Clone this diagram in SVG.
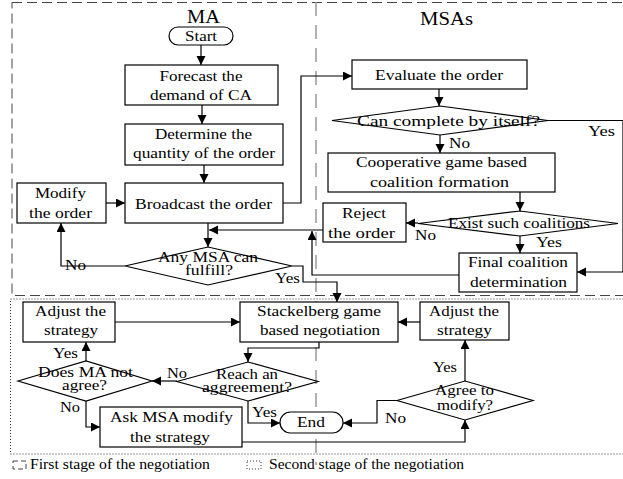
<svg xmlns="http://www.w3.org/2000/svg" width="623" height="479" viewBox="0 0 623 479">
<style>
text{font-family:'Liberation Serif','Times New Roman',Times,'DejaVu Serif',serif;font-size:15.5px;fill:#000}
.c{text-anchor:middle}
.h{font-size:18px}
.lg{font-size:14px}
.b{fill:#fff;stroke:#000;stroke-width:1.2}
.ln{fill:none;stroke:#000;stroke-width:1.2}
</style>
<defs>
<marker id="ar" markerUnits="userSpaceOnUse" markerWidth="10" markerHeight="10" refX="9" refY="4.5" orient="auto">
<path d="M0,0 L9,4.5 L0,9 z" fill="#000"/>
</marker>
</defs>
<rect width="623" height="479" fill="#fff"/>
<g font-family="Liberation Serif, Times New Roman, serif">
<g id="regions">
<rect x="12" y="2.5" width="625" height="293" fill="none" stroke="#444" stroke-width="1" stroke-dasharray="10,5"/>
<rect x="10.5" y="299" width="625" height="155" fill="none" stroke="#333" stroke-width="1" stroke-dasharray="1,2"/>
<line x1="316" y1="2" x2="316" y2="465" stroke="#999" stroke-width="1.5" stroke-dasharray="14,9"/>
<text class="c h" x="203.5" y="23" textLength="33" lengthAdjust="spacingAndGlyphs">MA</text>
<text class="c h" x="446.5" y="25" textLength="53" lengthAdjust="spacingAndGlyphs">MSAs</text>
</g>
<g id="connectors">
<path class="ln" d="M201,45 V65" marker-end="url(#ar)"/>
<path class="ln" d="M202,105 V124" marker-end="url(#ar)"/>
<path class="ln" d="M204,165 V183" marker-end="url(#ar)"/>
<path class="ln" d="M106,203 H125" marker-end="url(#ar)"/>
<path class="ln" d="M283,203 H301 V76 H352" marker-end="url(#ar)"/>
<path class="ln" d="M208,223 V247" marker-end="url(#ar)"/>
<path class="ln" d="M125,266 H61 V223" marker-end="url(#ar)"/>
<path class="ln" d="M292,266 H303 V282 H337 V302" marker-end="url(#ar)"/>
<path class="ln" d="M439,89 V106" marker-end="url(#ar)"/>
<path class="ln" d="M440,135 V153" marker-end="url(#ar)"/>
<path class="ln" d="M548,120.5 H623 V272 H577" marker-end="url(#ar)"/>
<path class="ln" d="M520,192 V211" marker-end="url(#ar)"/>
<path class="ln" d="M418,223 H406" marker-end="url(#ar)"/>
<path class="ln" d="M520,236 V253" marker-end="url(#ar)"/>
<path class="ln" d="M323,230 H209" marker-end="url(#ar)"/>
<path class="ln" d="M459,275 H312 V231" marker-end="url(#ar)"/>
<path class="ln" d="M115,322 H240" marker-end="url(#ar)"/>
<path class="ln" d="M420,322 H398" marker-end="url(#ar)"/>
<path class="ln" d="M319,342 V348 H248 V362" marker-end="url(#ar)"/>
<path class="ln" d="M177,381 H152" marker-end="url(#ar)"/>
<path class="ln" d="M86,361 V342" marker-end="url(#ar)"/>
<path class="ln" d="M86,401 V427 H100" marker-end="url(#ar)"/>
<path class="ln" d="M248,401 V423 H280" marker-end="url(#ar)"/>
<path class="ln" d="M242,442 H465 V420" marker-end="url(#ar)"/>
<path class="ln" d="M397,400.5 H377 V423 H343" marker-end="url(#ar)"/>
<path class="ln" d="M465,381 V340" marker-end="url(#ar)"/>
</g>
<g id="labels">
<text x="588" y="136" textLength="27" lengthAdjust="spacingAndGlyphs">Yes</text>
<text x="449" y="148" textLength="21" lengthAdjust="spacingAndGlyphs">No</text>
<text x="415" y="240" textLength="21" lengthAdjust="spacingAndGlyphs">No</text>
<text x="536" y="247" textLength="26" lengthAdjust="spacingAndGlyphs">Yes</text>
<text x="65" y="270" textLength="21" lengthAdjust="spacingAndGlyphs">No</text>
<text x="275" y="283" textLength="25" lengthAdjust="spacingAndGlyphs">Yes</text>
<text x="53" y="358" textLength="25" lengthAdjust="spacingAndGlyphs">Yes</text>
<text x="167" y="378" textLength="20" lengthAdjust="spacingAndGlyphs">No</text>
<text x="60" y="412" textLength="20" lengthAdjust="spacingAndGlyphs">No</text>
<text x="252" y="417" textLength="25" lengthAdjust="spacingAndGlyphs">Yes</text>
<text x="385" y="423" textLength="21" lengthAdjust="spacingAndGlyphs">No</text>
<text x="433" y="372" textLength="24" lengthAdjust="spacingAndGlyphs">Yes</text>
</g>
<g id="start">
<rect class="b" x="169" y="27" width="64" height="18" rx="9"/>
<text class="c" x="201" y="41" textLength="32" lengthAdjust="spacingAndGlyphs">Start</text>
</g>
<g id="forecast">
<rect class="b" x="125" y="65" width="153" height="40"/>
<text class="c" x="201" y="81" textLength="83" lengthAdjust="spacingAndGlyphs">Forecast the</text>
<text class="c" x="201" y="100" textLength="102" lengthAdjust="spacingAndGlyphs">demand of CA</text>
</g>
<g id="determine">
<rect class="b" x="125" y="124" width="158" height="41"/>
<text class="c" x="203.5" y="139" textLength="97" lengthAdjust="spacingAndGlyphs">Determine the</text>
<text class="c" x="204" y="158" textLength="142" lengthAdjust="spacingAndGlyphs">quantity of the order</text>
</g>
<g id="broadcast">
<rect class="b" x="125" y="183" width="158" height="40"/>
<text class="c" x="203.5" y="209" textLength="137" lengthAdjust="spacingAndGlyphs">Broadcast the order</text>
</g>
<g id="modify">
<rect class="b" x="17" y="183" width="89" height="40"/>
<text class="c" x="60.5" y="198" textLength="51" lengthAdjust="spacingAndGlyphs">Modify</text>
<text class="c" x="60.5" y="218" textLength="63" lengthAdjust="spacingAndGlyphs">the order</text>
</g>
<g id="anymsa">
<polygon class="b" points="125,266 208,247 292,266 208,285"/>
<text class="c" x="208" y="262" textLength="100" lengthAdjust="spacingAndGlyphs">Any MSA can</text>
<text class="c" x="209" y="275" textLength="48" lengthAdjust="spacingAndGlyphs">fulfill?</text>
</g>
<g id="evaluate">
<rect class="b" x="352" y="60" width="175" height="29"/>
<text class="c" x="439" y="80" textLength="128" lengthAdjust="spacingAndGlyphs">Evaluate the order</text>
</g>
<g id="cancomplete">
<polygon class="b" points="332,120.5 440,106 548,120.5 440,135"/>
<text class="c" x="448.5" y="126" textLength="183" lengthAdjust="spacingAndGlyphs">Can complete by itself?</text>
</g>
<g id="coop">
<rect class="b" x="328" y="153" width="227" height="39"/>
<text class="c" x="441.5" y="167" textLength="171" lengthAdjust="spacingAndGlyphs">Cooperative game based</text>
<text class="c" x="439.5" y="187" textLength="139" lengthAdjust="spacingAndGlyphs">coalition formation</text>
</g>
<g id="exist">
<polygon class="b" points="418,223.5 520,211 618,223.5 520,236"/>
<text class="c" x="519" y="228" textLength="142" lengthAdjust="spacingAndGlyphs">Exist such coalitions</text>
</g>
<g id="reject">
<rect class="b" x="323" y="203" width="83" height="39"/>
<text class="c" x="364" y="218" textLength="44" lengthAdjust="spacingAndGlyphs">Reject</text>
<text class="c" x="361.5" y="238" textLength="67" lengthAdjust="spacingAndGlyphs">the order</text>
</g>
<g id="final">
<rect class="b" x="459" y="253" width="118" height="39"/>
<text class="c" x="518" y="267" textLength="100" lengthAdjust="spacingAndGlyphs">Final coalition</text>
<text class="c" x="518.5" y="287" textLength="97" lengthAdjust="spacingAndGlyphs">determination</text>
</g>
<g id="adjustL">
<rect class="b" x="23" y="302" width="92" height="40"/>
<text class="c" x="70.5" y="316" textLength="71" lengthAdjust="spacingAndGlyphs">Adjust the</text>
<text class="c" x="71" y="335" textLength="54" lengthAdjust="spacingAndGlyphs">strategy</text>
</g>
<g id="stackelberg">
<rect class="b" x="240" y="302" width="158" height="40"/>
<text class="c" x="319" y="316" textLength="124" lengthAdjust="spacingAndGlyphs">Stackelberg game</text>
<text class="c" x="320" y="335" textLength="120" lengthAdjust="spacingAndGlyphs">based negotiation</text>
</g>
<g id="adjustR">
<rect class="b" x="420" y="302" width="89" height="38"/>
<text class="c" x="464" y="316" textLength="70" lengthAdjust="spacingAndGlyphs">Adjust the</text>
<text class="c" x="464.5" y="335" textLength="55" lengthAdjust="spacingAndGlyphs">strategy</text>
</g>
<g id="doesma">
<polygon class="b" points="18,381 86,361 152,381 86,401"/>
<text class="c" x="85.5" y="377" textLength="95" lengthAdjust="spacingAndGlyphs">Does MA not</text>
<text class="c" x="84.5" y="390" textLength="45" lengthAdjust="spacingAndGlyphs">agree?</text>
</g>
<g id="reach">
<polygon class="b" points="177,381.5 248,362 318,381.5 248,401"/>
<text class="c" x="247" y="379" textLength="62" lengthAdjust="spacingAndGlyphs">Reach an</text>
<text class="c" x="247" y="392" textLength="90" lengthAdjust="spacingAndGlyphs">aggreement?</text>
</g>
<g id="ask">
<rect class="b" x="100" y="407" width="142" height="40"/>
<text class="c" x="171.5" y="422" textLength="123" lengthAdjust="spacingAndGlyphs">Ask MSA modify</text>
<text class="c" x="170" y="442" textLength="80" lengthAdjust="spacingAndGlyphs">the strategy</text>
</g>
<g id="end">
<rect class="b" x="280" y="412" width="63" height="21" rx="10.5"/>
<text class="c" x="311" y="427" textLength="28" lengthAdjust="spacingAndGlyphs">End</text>
</g>
<g id="agree">
<polygon class="b" points="397,400.5 465,381 533,400.5 465,420"/>
<text class="c" x="464.5" y="395" textLength="59" lengthAdjust="spacingAndGlyphs">Agree to</text>
<text class="c" x="465" y="410" textLength="56" lengthAdjust="spacingAndGlyphs">modify?</text>
</g>
<g id="legend">
<rect x="13" y="461" width="13" height="8" fill="none" stroke="#444" stroke-width="1" stroke-dasharray="5,3"/>
<text class="lg" x="30" y="469" textLength="180" lengthAdjust="spacingAndGlyphs">First stage of the negotiation</text>
<rect x="247" y="461" width="14" height="8" fill="none" stroke="#333" stroke-width="1" stroke-dasharray="1,2"/>
<text class="lg" x="269" y="469" textLength="195" lengthAdjust="spacingAndGlyphs">Second stage of the negotiation</text>
</g>
</g>
</svg>
